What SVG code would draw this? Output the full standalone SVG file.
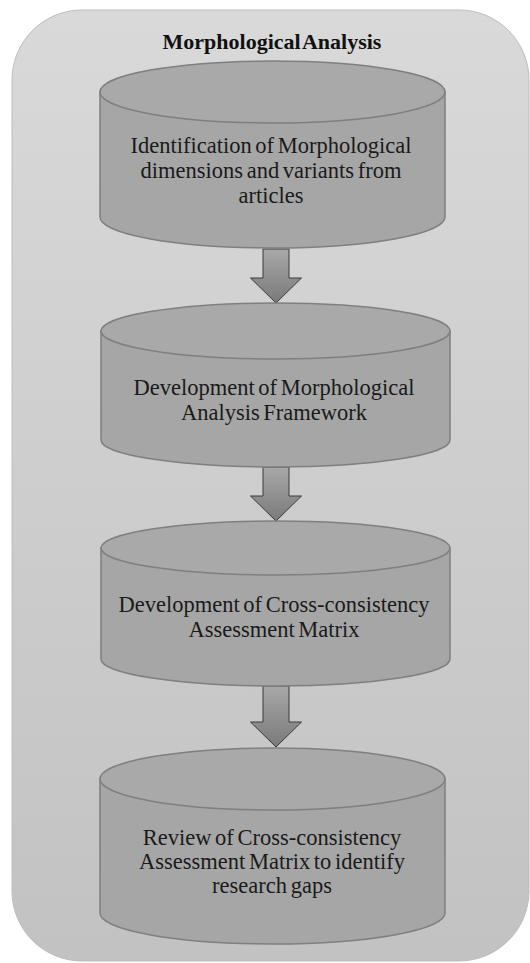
<svg xmlns="http://www.w3.org/2000/svg" width="530" height="963" viewBox="0 0 530 963">
<defs>
<linearGradient id="bg" x1="0" y1="0" x2="0" y2="1">
<stop offset="0" stop-color="#d9d9d9"/>
<stop offset="1" stop-color="#c2c2c2"/>
</linearGradient>
<linearGradient id="arr" x1="0" y1="0" x2="0" y2="1">
<stop offset="0" stop-color="#a8a8a8"/>
<stop offset="1" stop-color="#7a7a7a"/>
</linearGradient>
<style>
.cyl{fill:#a6a6a6;stroke:#7f7f7f;stroke-width:1.5}
.top{fill:#a9a9a9;stroke:#7f7f7f;stroke-width:1.5}
.arrow{fill:url(#arr);stroke:#3a3a3a;stroke-width:1}
.t{font-family:"Liberation Serif","Times New Roman",serif;font-size:22.5px;fill:#1a1a1a;text-anchor:middle;word-spacing:-2px}
.title{font-family:"Liberation Serif","Times New Roman",serif;font-size:22px;font-weight:bold;fill:#111;text-anchor:middle;word-spacing:-3px}
</style>
</defs>
<g id="container">
<rect x="12" y="10" width="517" height="951" rx="70" ry="70" fill="url(#bg)" stroke="#bdbdbd" stroke-width="1"/>
<text class="title" x="272" y="49">Morphological Analysis</text>
</g>
<g id="connectors">
<path class="arrow" d="M263,249 H289 V278 H301.5 L276,303 L250.5,278 H263 Z"/>
<path class="arrow" d="M263,467 H289 V496 H301.5 L276,521 L250.5,496 H263 Z"/>
<path class="arrow" d="M263,686 H289 V722 H301.5 L276,747 L250.5,722 H263 Z"/>
</g>
<g id="node1">
<path class="cyl" d="M100,92 V217 A172.5,31 0 0 0 445,217 V92 Z"/>
<ellipse class="top" cx="272.5" cy="92" rx="172.5" ry="31"/>
<text class="t" x="271" y="153">Identification of Morphological</text>
<text class="t" x="271" y="178">dimensions and variants from</text>
<text class="t" x="271" y="203">articles</text>
</g>
<g id="node2">
<path class="cyl" d="M101,331 V440 A174.5,27 0 0 0 450,440 V331 Z"/>
<ellipse class="top" cx="275.5" cy="331" rx="174.5" ry="28"/>
<text class="t" x="274" y="395">Development of Morphological</text>
<text class="t" x="274" y="420">Analysis Framework</text>
</g>
<g id="node3">
<path class="cyl" d="M101,548 V659 A174.5,27 0 0 0 450,659 V548 Z"/>
<ellipse class="top" cx="275.5" cy="548" rx="174.5" ry="27"/>
<text class="t" x="274" y="612">Development of Cross-consistency</text>
<text class="t" x="274" y="637">Assessment Matrix</text>
</g>
<g id="node4">
<path class="cyl" d="M100,779 V913 A172.5,31 0 0 0 445,913 V779 Z"/>
<ellipse class="top" cx="272.5" cy="779" rx="172.5" ry="31"/>
<text class="t" x="272" y="845">Review of Cross-consistency</text>
<text class="t" x="272" y="869">Assessment Matrix to identify</text>
<text class="t" x="272" y="893">research gaps</text>
</g>
</svg>
